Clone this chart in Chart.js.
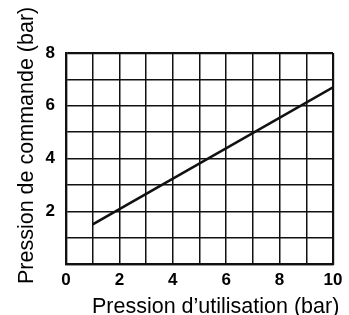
<!DOCTYPE html>
<html>
<head>
<meta charset="utf-8">
<script src="https://cdn.jsdelivr.net/npm/chart.js@4"></script>
<style>
  html, body { margin: 0; padding: 0; background: #fff; }
  #wrap { width: 349px; height: 315px; }
</style>
</head>
<body>
<div id="wrap"><canvas id="c" width="349" height="315"></canvas></div>
<script>
// donnees
var pressionUtilisation = [1, 10];
var pressionCommande = [1.5, 6.7];
var xTicksShown = [0, 2, 4, 6, 8, 10];
var yTicksShown = [2, 4, 6, 8];
var xTitle = "Pression d\u2019utilisation (bar)";
var yTitle = "Pression de commande (bar)";

// titres des axes dessines a la main (position decalee comme sur l'original)
var axisTitles = {
    id: 'axisTitles',
    afterDraw: function (chart) {
        var ctx = chart.ctx;
        ctx.save();
        ctx.fillStyle = '#000';
        ctx.font = '21.5px "Liberation Sans", Arial, sans-serif';
        ctx.textBaseline = 'alphabetic';
        ctx.textAlign = 'left';
        ctx.fillText(xTitle, 92, 313);
        ctx.translate(33, 284);
        ctx.rotate(-Math.PI / 2);
        ctx.fillText(yTitle, 0, 0);
        ctx.restore();
    }
};

var pts = pressionUtilisation.map(function (x, i) {
    return { x: x, y: pressionCommande[i] };
});

var tickFont = { family: '"Liberation Sans", Arial, sans-serif', size: 17, weight: 'bold' };

new Chart(document.getElementById('c'), {
    type: 'scatter',
    data: {
        datasets: [{
            data: pts,
            showLine: true,
            borderColor: '#111',
            borderWidth: 2.6,
            pointRadius: 0,
            fill: false
        }]
    },
    options: {
        responsive: false,
        animation: false,
        events: [],
        layout: { padding: { left: 0, right: 16, top: 53, bottom: 0 } },
        plugins: { legend: { display: false }, tooltip: { enabled: false } },
        scales: {
            x: {
                type: 'linear',
                min: 0, max: 10,
                afterFit: function (s) { s.height = 51; },
                ticks: {
                    stepSize: 1,
                    autoSkip: false,
                    maxRotation: 0,
                    padding: 6,
                    color: '#000',
                    font: tickFont,
                    callback: function (v) { return xTicksShown.indexOf(v) >= 0 ? String(v) : ''; }
                },
                grid: {
                    color: '#111',
                    lineWidth: function (c) { return (c.tick && (c.tick.value === 0 || c.tick.value === 10)) ? 2.2 : 1.5; },
                    drawTicks: false
                },
                border: { display: true, color: '#111', width: 2.2 }
            },
            y: {
                type: 'linear',
                min: 0, max: 8,
                afterFit: function (s) { s.width = 66; },
                ticks: {
                    stepSize: 1,
                    autoSkip: false,
                    padding: 11,
                    color: '#000',
                    font: tickFont,
                    callback: function (v) { return yTicksShown.indexOf(v) >= 0 ? String(v) : ''; }
                },
                grid: {
                    color: '#111',
                    lineWidth: function (c) { return (c.tick && (c.tick.value === 0 || c.tick.value === 8)) ? 2.2 : 1.5; },
                    drawTicks: false
                },
                border: { display: true, color: '#111', width: 2.2 }
            }
        }
    },
    plugins: [axisTitles]
});
</script>
</body>
</html>
